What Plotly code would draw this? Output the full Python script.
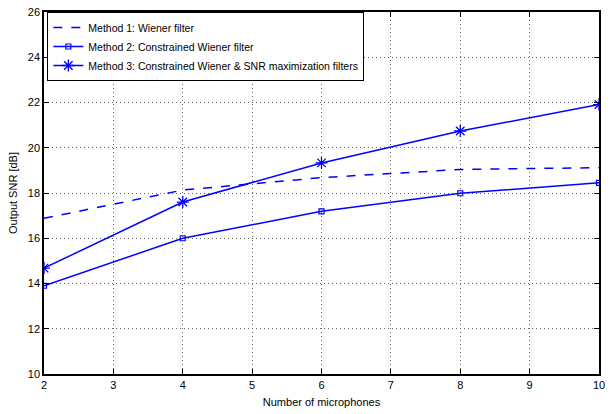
import plotly.graph_objects as go

mics = [2, 4, 6, 8, 10]
method1 = [16.88, 18.13, 18.68, 19.04, 19.12]
method2 = [13.9, 16.0, 17.19, 17.99, 18.45]
method3 = [14.68, 17.6, 19.33, 20.74, 21.91]
names = ["Method 1: Wiener filter",
         "Method 2: Constrained Wiener filter",
         "Method 3: Constrained Wiener & SNR maximization filters"]
xticks = [2, 3, 4, 5, 6, 7, 8, 9, 10]
yticks = [10, 12, 14, 16, 18, 20, 22, 24, 26]

blue = "#0000FF"
fig = go.Figure()
fig.add_trace(go.Scatter(x=mics, y=method1, mode="lines", name=names[0],
                         line=dict(color=blue, width=1.5, dash="dash")))
fig.add_trace(go.Scatter(x=mics, y=method2, mode="lines+markers", name=names[1],
                         line=dict(color=blue, width=1.5),
                         marker=dict(symbol="square-open", size=5, color=blue,
                                     line=dict(width=1.2, color=blue))))
fig.add_trace(go.Scatter(x=mics, y=method3, mode="lines+markers", name=names[2],
                         line=dict(color=blue, width=1.5),
                         marker=dict(symbol="asterisk-open", size=10, color=blue,
                                     line=dict(width=1.3, color=blue))))

font_family = "Liberation Sans, Arial"
fs = 11
axis_common = dict(showline=True, linecolor="black", linewidth=1.5, mirror="ticks",
                   ticks="inside", ticklen=5, tickcolor="black",
                   showgrid=True, gridcolor="#666666", griddash="1px,3px", gridwidth=1,
                   zeroline=False, tickfont=dict(family=font_family, size=fs, color="black"))

fig.update_xaxes(range=[2, 10], tickvals=xticks, title=dict(text="Number of microphones", standoff=8,
                 font=dict(family=font_family, size=fs, color="black")), **axis_common)
fig.update_yaxes(range=[10, 26], tickvals=yticks, title=dict(text="Output SNR [dB]", standoff=8,
                 font=dict(family=font_family, size=fs, color="black")), **axis_common)

fig.update_layout(
    width=614, height=414,
    margin=dict(l=44, r=15, t=6, b=40),
    plot_bgcolor="white", paper_bgcolor="white",
    font=dict(family=font_family, size=fs, color="black"),
    legend=dict(x=0.006, y=1.0, xanchor="left", yanchor="top",
                bgcolor="white", bordercolor="black", borderwidth=1,
                font=dict(size=10.5), tracegroupgap=0, itemwidth=30),
    showlegend=True,
)

fig.write_html("out.html", config={"displayModeBar": False},
               post_script="document.body.style.margin='0';document.body.style.overflow='hidden';")
